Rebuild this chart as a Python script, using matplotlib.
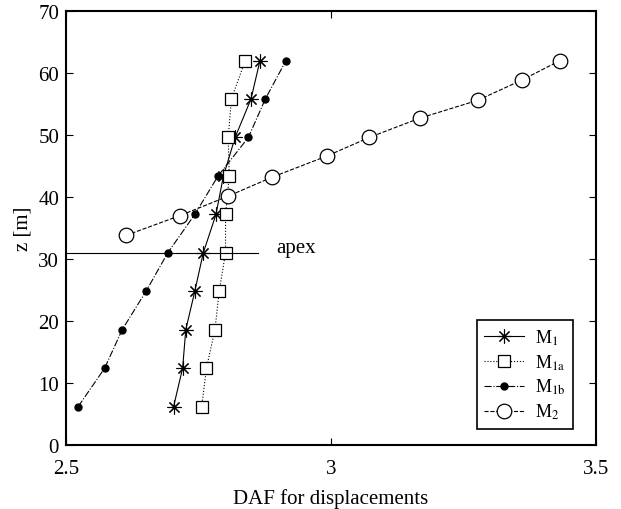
import numpy as np
from matplotlib import pyplot as plt

plt.rcParams['font.family'] = ['Liberation Serif', 'DejaVu Serif']
plt.rcParams['mathtext.fontset'] = 'stix'

z = [6.2, 12.4, 18.6, 24.8, 31.0, 37.2, 43.4, 49.6, 55.8, 62.0]
daf_m1 = [2.703, 2.720, 2.726, 2.743, 2.759, 2.783, 2.797, 2.819, 2.849, 2.866]
daf_m1a = [2.756, 2.765, 2.781, 2.789, 2.801, 2.801, 2.808, 2.806, 2.812, 2.838]
daf_m1b = [2.523, 2.573, 2.606, 2.651, 2.692, 2.743, 2.787, 2.844, 2.876, 2.915]

z_m2 = [33.8, 37.0, 40.1, 43.2, 46.6, 49.6, 52.7, 55.6, 58.9, 62.0]
daf_m2 = [2.613, 2.715, 2.805, 2.889, 2.992, 3.072, 3.167, 3.277, 3.361, 3.432]

apex_z = 31.0

fig = plt.figure(figsize=(6.21, 5.10), dpi=100)
ax = fig.add_axes([0.1063, 0.1255, 0.8535, 0.851])

ax.plot(daf_m1, z, 'k-', marker=(8, 2, 0), ms=10, lw=0.8, mew=0.8, label=r'M$_{\rm 1}$')
ax.plot(daf_m1a, z, 'k:', marker='s', ms=9, mfc='white', lw=0.8, mew=0.9, label=r'M$_{\rm 1a}$')
ax.plot(daf_m1b, z, 'k-.', marker='o', ms=5, lw=0.8, label=r'M$_{\rm 1b}$')
ax.plot(daf_m2, z_m2, 'k--', marker='o', ms=10.5, mfc='white', lw=0.8, mew=0.9, label=r'M$_{\rm 2}$')

ax.plot([2.5, 2.862], [apex_z, apex_z], 'k-', lw=0.8)
ax.text(2.896, apex_z + 0.9, 'apex', fontsize=15, va='center', ha='left')

ax.set_xlim(2.5, 3.5)
ax.set_ylim(0, 70)
ax.set_xticks([2.5, 3, 3.5])
ax.set_xticklabels(['2.5', '3', '3.5'])
ax.set_yticks(np.arange(0, 71, 10))
ax.tick_params(direction='in', top=True, right=True, labelsize=15, length=5, width=0.8)
ax.tick_params(axis='x', pad=10)
ax.tick_params(axis='y', pad=5)
for s in ax.spines.values():
    s.set_linewidth(1.5)

ax.set_xlabel('DAF for displacements', fontsize=15, labelpad=7)
ax.set_ylabel('z [m]', fontsize=15, labelpad=4)

leg = ax.legend(loc='lower right', bbox_to_anchor=(0.956, 0.038), borderaxespad=0,
                fontsize=13, fancybox=False, edgecolor='black', framealpha=1,
                handlelength=2.2, borderpad=0.4, labelspacing=0.3, handletextpad=0.6)
leg.get_frame().set_linewidth(1.2)

fig.savefig('out.png', dpi=100)
